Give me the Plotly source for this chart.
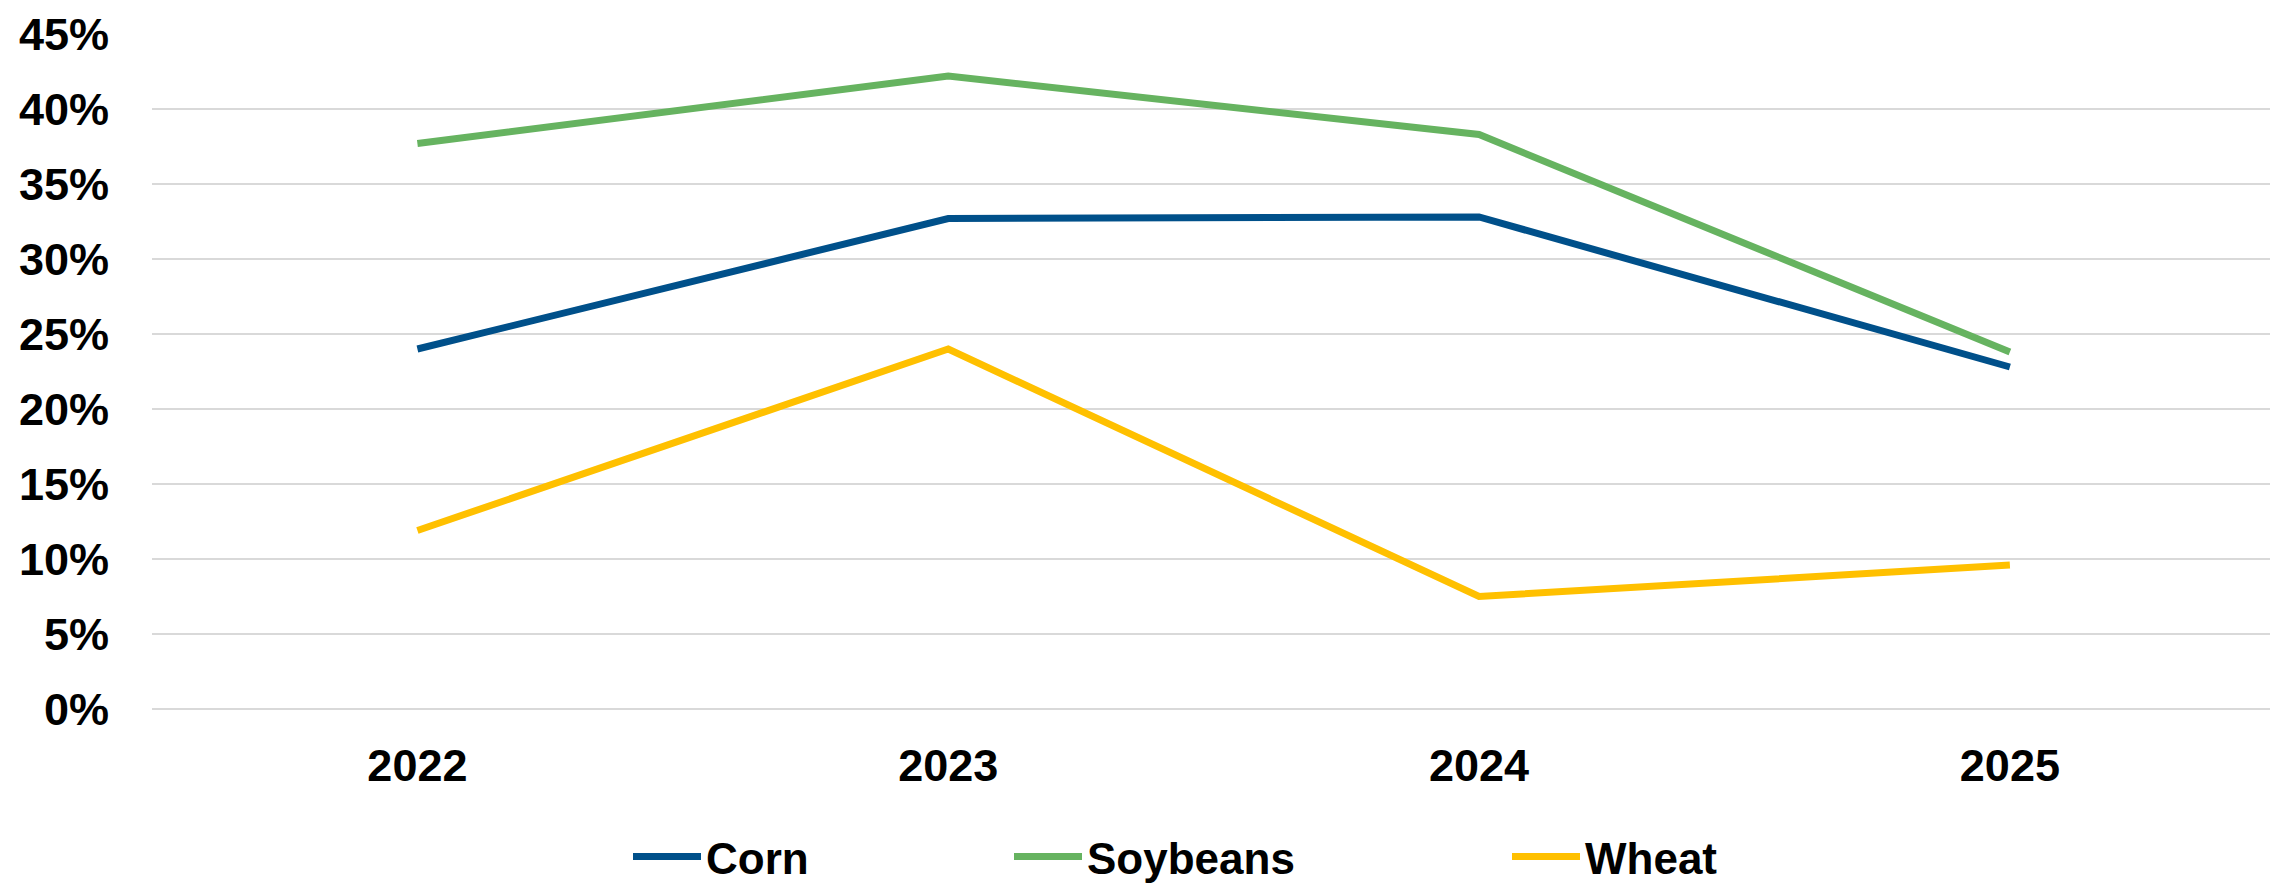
import plotly.graph_objects as go

# Share of crop by marketing year
years = ["2022", "2023", "2024", "2025"]
corn = [0.240, 0.327, 0.328, 0.228]
soybeans = [0.377, 0.422, 0.383, 0.238]
wheat = [0.119, 0.240, 0.075, 0.096]

y_ticks = [0.00, 0.05, 0.10, 0.15, 0.20, 0.25, 0.30, 0.35, 0.40, 0.45]
y_tick_labels = ["0%", "5%", "10%", "15%", "20%", "25%", "30%", "35%", "40%", "45%"]

series = [
    ("Corn", corn, "#00508A", "legend"),
    ("Soybeans", soybeans, "#66B360", "legend2"),
    ("Wheat", wheat, "#FFC000", "legend3"),
]

FONT = "Liberation Sans, Arial, sans-serif"

fig = go.Figure()
for name, values, color, leg in series:
    fig.add_trace(go.Scatter(
        x=years, y=values, name=name, mode="lines",
        line=dict(color=color, width=7),
        legend=leg, showlegend=True,
    ))

legend_common = dict(
    orientation="h",
    yanchor="middle", y=-0.219,
    xanchor="left",
    itemwidth=68,
    font=dict(family=FONT, size=44, color="#000000", weight="bold"),
    bgcolor="rgba(0,0,0,0)",
    visible=True,
)

fig.update_layout(
    width=2270, height=884,
    margin=dict(l=152, r=0, t=34, b=175, autoexpand=False),
    paper_bgcolor="white", plot_bgcolor="white",
    font=dict(family=FONT, size=44, color="#000000", weight="bold"),
    showlegend=True,
    legend=dict(legend_common, x=(628 - 152) / 2118),
    legend2=dict(legend_common, x=(1009 - 152) / 2118),
    legend3=dict(legend_common, x=(1507 - 152) / 2118),
    xaxis=dict(
        type="category", range=[-0.5, 3.49],
        showgrid=False, zeroline=False, showline=False,
        ticks="", ticklabelstandoff=26, automargin=False,
        tickfont=dict(family=FONT, size=45, color="#000000", weight="bold"),
    ),
    yaxis=dict(
        range=[0, 0.45], tickvals=y_ticks, ticktext=y_tick_labels,
        showgrid=True, gridcolor="#D9D9D9", gridwidth=2,
        zeroline=True, zerolinecolor="#D9D9D9", zerolinewidth=2,
        showline=False, automargin=False,
        ticks="", ticklabelstandoff=42,
        tickfont=dict(family=FONT, size=45, color="#000000", weight="bold"),
    ),
)

fig.write_html("out.html")
